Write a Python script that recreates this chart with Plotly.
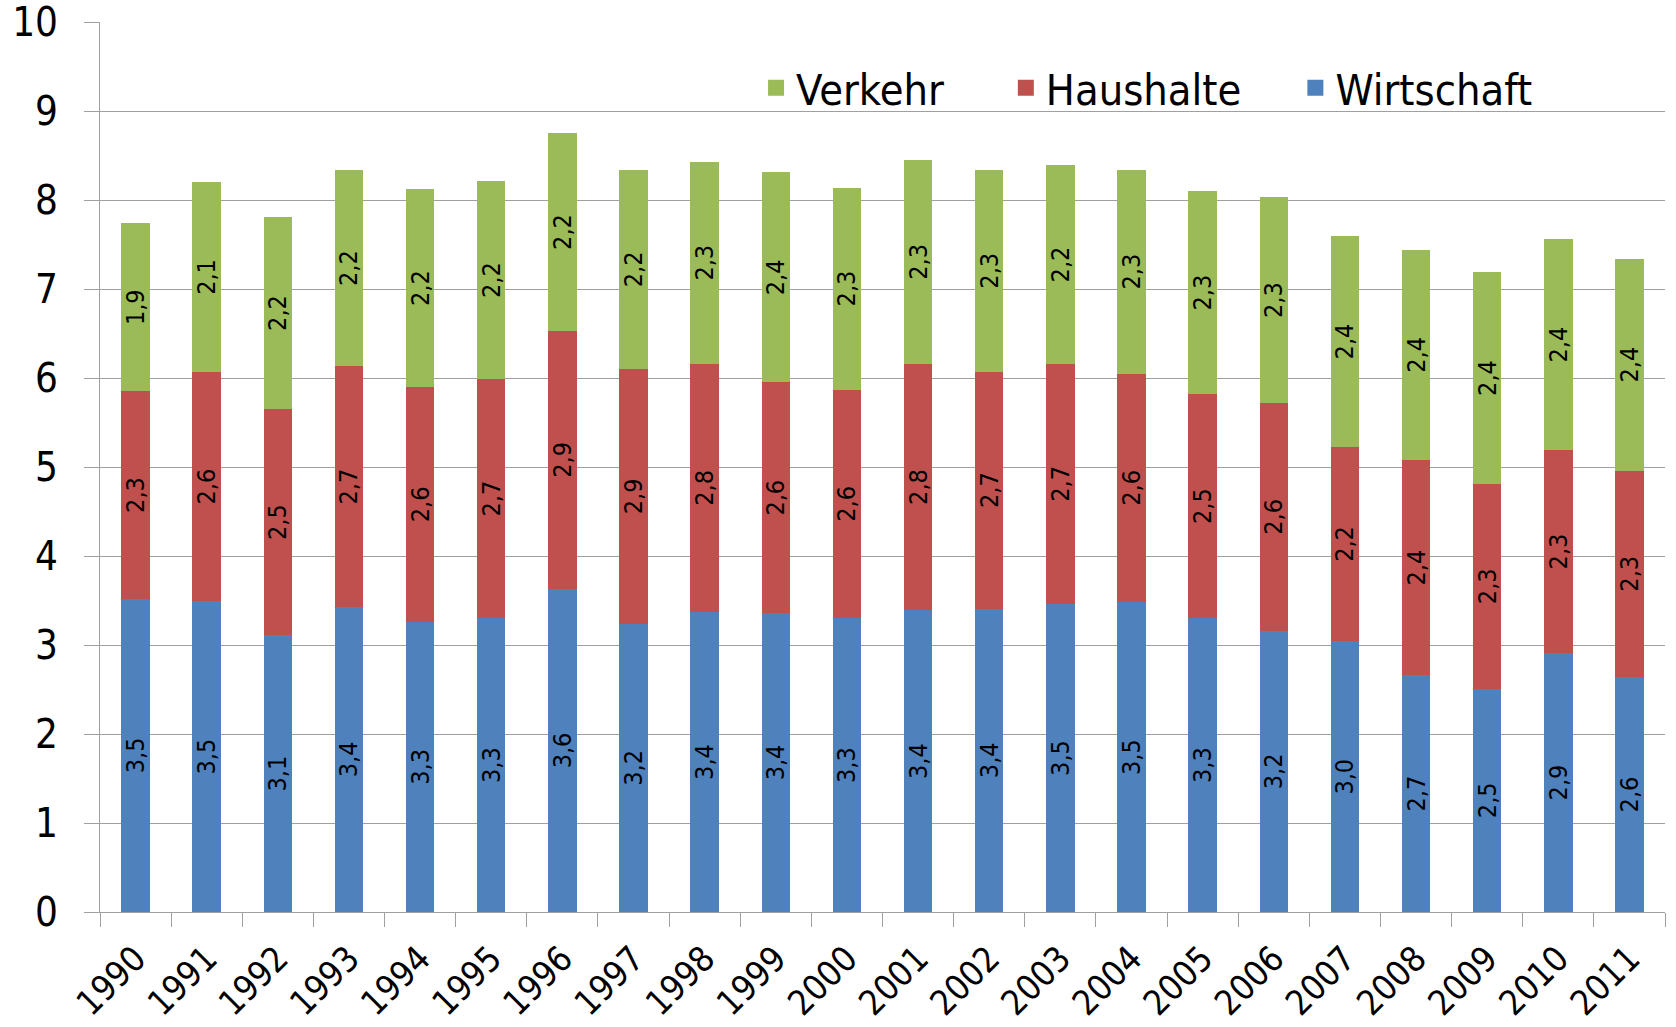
import plotly.graph_objects as go

years = [str(y) for y in range(1990, 2012)]
wirtschaft = [3.52, 3.49, 3.11, 3.43, 3.26, 3.30, 3.63, 3.24, 3.37, 3.36, 3.30,
              3.39, 3.41, 3.46, 3.48, 3.30, 3.16, 3.04, 2.66, 2.51, 2.91, 2.64]
haushalte = [2.33, 2.58, 2.54, 2.70, 2.64, 2.69, 2.90, 2.86, 2.79, 2.59, 2.57,
             2.77, 2.66, 2.70, 2.57, 2.52, 2.56, 2.19, 2.42, 2.30, 2.28, 2.32]
verkehr = [1.89, 2.13, 2.16, 2.21, 2.22, 2.22, 2.22, 2.24, 2.27, 2.36, 2.27,
           2.29, 2.27, 2.23, 2.29, 2.28, 2.31, 2.36, 2.36, 2.38, 2.37, 2.38]

series = [("Wirtschaft", wirtschaft, "#4F81BD"),
          ("Haushalte", haushalte, "#C0504D"),
          ("Verkehr", verkehr, "#9BBB59")]

FONT = "DejaVu Sans Condensed, Liberation Sans Narrow, Liberation Sans, Arial"

fig = go.Figure()
for name, vals, col in series:
    fig.add_trace(go.Bar(
        x=years, y=vals, name=name, marker_color=col,
        marker_line_width=0, showlegend=False,
        texttemplate="%{y:.1f}", textposition="inside",
        insidetextanchor="middle", textangle=-90,
        textfont=dict(size=25, color="black", family=FONT),
    ))

# legend entries (larger square symbols), order Verkehr, Haushalte, Wirtschaft
pads = {"Verkehr": "\u00a0" * 4 + "\u2009", "Haushalte": "\u00a0" * 4, "Wirtschaft": ""}
for name, vals, col in reversed(series):
    fig.add_trace(go.Scatter(
        x=[None], y=[None], mode="markers", name=name + pads[name],
        marker=dict(symbol="square", size=16, color=col),
        showlegend=True,
    ))

fig.update_layout(
    barmode="stack", bargap=0.6,
    separators=",.",
    width=1676, height=1027,
    margin=dict(l=100, r=11, t=22, b=115),
    paper_bgcolor="white", plot_bgcolor="white",
    font=dict(family=FONT, color="black"),
    uniformtext=dict(minsize=25, mode="show"),
    legend=dict(orientation="h", traceorder="normal",
                x=0.4192, y=0.926, xanchor="left", yanchor="middle",
                font=dict(size=43, family=FONT), bgcolor="rgba(0,0,0,0)",
                itemwidth=30),
    showlegend=True,
)
fig.update_xaxes(
    type="category", tickangle=-45, tickfont=dict(size=35, family=FONT),
    showline=True, linecolor="#A0A0A0", linewidth=1,
    ticks="outside", tickson="boundaries", ticklen=14, tickcolor="#A0A0A0",
    ticklabelstandoff=11, ticklabeloverflow="allow",
    showgrid=False, automargin=False,
)
fig.update_yaxes(
    range=[0, 10], dtick=1, tickfont=dict(size=40, family=FONT),
    showline=True, linecolor="#A0A0A0", linewidth=1,
    ticks="outside", ticklen=15, tickcolor="#A0A0A0",
    ticklabelstandoff=18, ticklabeloverflow="allow",
    showgrid=True, gridcolor="#A0A0A0", gridwidth=1,
    zeroline=False, automargin=False,
)

fig.write_html(
    "out.html",
    config={"displayModeBar": False},
    post_script="document.body.style.margin='0';document.body.style.overflow='hidden';",
)
